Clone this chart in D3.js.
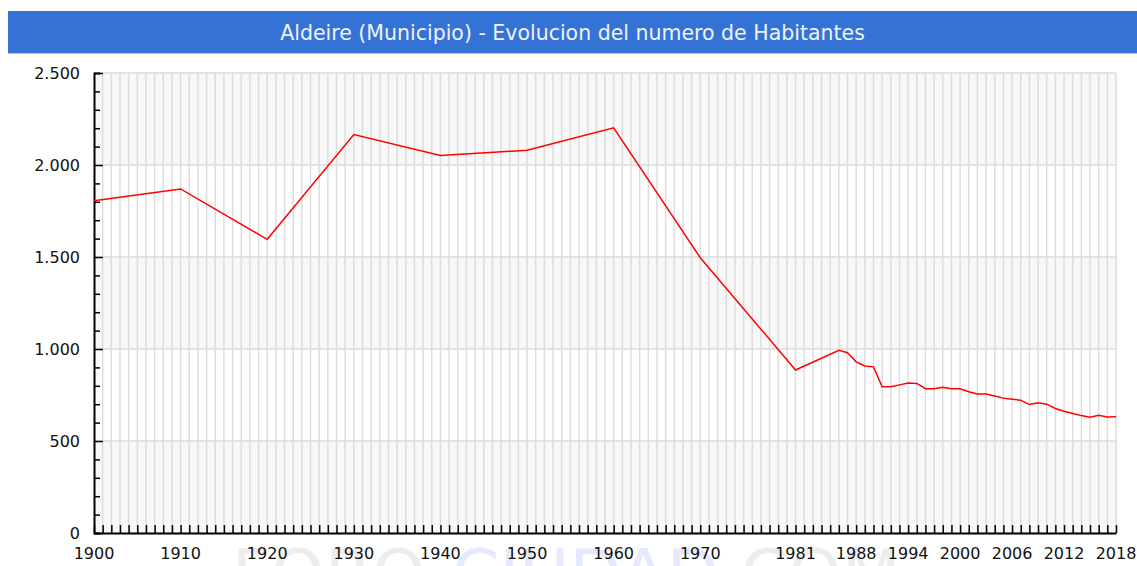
<!DOCTYPE html>
<html lang="es">
<head>
    <meta charset="UTF-8">
    <title>Aldeire - Evolucion del numero de Habitantes</title>
    <script src="https://d3js.org/d3.v7.min.js"></script>
    <style>
        body { margin: 0; background: #fff; }
        text { font-family: "DejaVu Sans", Verdana, sans-serif; }
    </style>
</head>
<body>

<div id="chart"></div>

<script>
    // Padron / censo
    var years = [1900, 1910, 1920, 1930, 1940, 1950, 1960, 1970, 1981,
        1986, 1987, 1988, 1989, 1990, 1991, 1992, 1993, 1994, 1995, 1996,
        1997, 1998, 1999, 2000, 2001, 2002, 2003, 2004, 2005, 2006, 2007,
        2008, 2009, 2010, 2011, 2012, 2013, 2014, 2015, 2016, 2017, 2018];
    var population = [1806, 1870, 1596, 2165, 2052, 2080, 2202, 1496, 886,
        993, 980, 930, 908, 903, 795, 795, 805, 815, 813, 784,
        784, 792, 784, 784, 768, 756, 756, 745, 733, 727, 722,
        698, 708, 700, 677, 662, 650, 638, 629, 640, 631, 632];

    var xLabelYears = [1900, 1910, 1920, 1930, 1940, 1950, 1960, 1970,
        1981, 1988, 1994, 2000, 2006, 2012, 2018];
    var yTicks = [0, 500, 1000, 1500, 2000, 2500];
    var yTickLabels = ["0", "500", "1.000", "1.500", "2.000", "2.500"];

    var title = "Aldeire (Municipio) - Evolucion del numero de Habitantes";

    var W = 1137, H = 566;
    var margin = {top: 73, right: 21, bottom: 33, left: 94},
        width = W - margin.left - margin.right,
        height = H - margin.top - margin.bottom;

    var svg = d3.select("#chart").append("svg")
        .attr("width", W)
        .attr("height", H);

    // title bar
    svg.append("rect")
        .attr("x", 8).attr("y", 11)
        .attr("width", W - 8).attr("height", 43)
        .attr("fill", "#3572d6");
    svg.append("rect")
        .attr("x", 8).attr("y", 53)
        .attr("width", W - 8).attr("height", 1)
        .attr("fill", "#a9c4f0");
    svg.append("text")
        .attr("x", (8 + W) / 2).attr("y", 40)
        .attr("text-anchor", "middle")
        .attr("fill", "#eef3ff")
        .attr("font-size", "20.5px")
        .text(title);

    // watermark
    var wm = svg.append("text")
        .attr("x", 232).attr("y", 598)
        .attr("font-size", "68px");
    wm.append("tspan").attr("fill", "#ededed").text("FORO-");
    wm.append("tspan").attr("fill", "#e6e8fb").text("CIUDAD");
    wm.append("tspan").attr("fill", "#ededed").text(".COM");

    var g = svg.append("g")
        .attr("transform", "translate(" + margin.left + "," + margin.top + ")");

    var x = d3.scaleLinear()
        .domain([1900, 2018])
        .range([0, width]);

    var y = d3.scaleLinear()
        .domain([0, 2500])
        .range([height, 0]);

    // alternating bands
    var bands = d3.pairs(yTicks);
    g.selectAll(".band")
        .data(bands)
        .enter().append("rect")
        .attr("x", 0)
        .attr("width", width)
        .attr("y", function(d) { return y(d[1]); })
        .attr("height", function(d) { return y(d[0]) - y(d[1]); })
        .attr("fill", function(d, i) { return i % 2 === 0 ? "#f8f8f8" : "#ffffff"; });

    // vertical grid, one per year
    g.append("g")
        .selectAll("line")
        .data(d3.range(1901, 2019))
        .enter().append("line")
        .attr("x1", function(d) { return x(d); })
        .attr("x2", function(d) { return x(d); })
        .attr("y1", 0).attr("y2", height)
        .attr("stroke", "#dddddd")
        .attr("stroke-width", 1.5);

    // horizontal grid
    g.append("g")
        .selectAll("line")
        .data(yTicks.slice(1))
        .enter().append("line")
        .attr("x1", 0).attr("x2", width)
        .attr("y1", function(d) { return y(d); })
        .attr("y2", function(d) { return y(d); })
        .attr("stroke", "#dddddd")
        .attr("stroke-width", 1.5);

    // Y axis (ticks inside the plot)
    var yAxis = g.append("g")
        .call(d3.axisRight(y)
            .tickValues(d3.range(0, 2501, 100))
            .tickSize(6)
            .tickFormat(""));
    yAxis.selectAll(".tick line")
        .attr("x2", function(d) { return d % 500 === 0 ? 9 : 6; })
        .attr("stroke", "#000")
        .attr("stroke-width", 1.5);
    yAxis.select(".domain").attr("stroke", "#000").attr("stroke-width", 2);

    g.append("g")
        .selectAll("text")
        .data(yTicks)
        .enter().append("text")
        .attr("x", -14)
        .attr("y", function(d) { return y(d); })
        .attr("dy", "0.35em")
        .attr("text-anchor", "end")
        .attr("font-size", "16px")
        .attr("fill", "#111")
        .text(function(d, i) { return yTickLabels[i]; });

    // X axis (ticks inside the plot)
    var xAxis = g.append("g")
        .attr("transform", "translate(0," + height + ")")
        .call(d3.axisTop(x)
            .tickValues(d3.range(1900, 2019))
            .tickSize(8)
            .tickSizeOuter(0)
            .tickFormat(""));
    xAxis.selectAll(".tick line").attr("stroke", "#000").attr("stroke-width", 1.5);
    xAxis.select(".domain").attr("stroke", "#000").attr("stroke-width", 2);

    g.append("g")
        .selectAll("text")
        .data(xLabelYears)
        .enter().append("text")
        .attr("x", function(d) { return x(d); })
        .attr("y", height + 26)
        .attr("text-anchor", "middle")
        .attr("font-size", "16px")
        .attr("fill", "#111")
        .text(function(d) { return d; });

    // population line
    var series = years.map(function(yr, i) { return {year: yr, value: population[i]}; });
    g.append("path")
        .datum(series)
        .attr("fill", "none")
        .attr("stroke", "#ff0000")
        .attr("stroke-width", 1.5)
        .attr("d", d3.line()
            .x(function(d) { return x(d.year); })
            .y(function(d) { return y(d.value); }));
</script>

</body>
</html>
